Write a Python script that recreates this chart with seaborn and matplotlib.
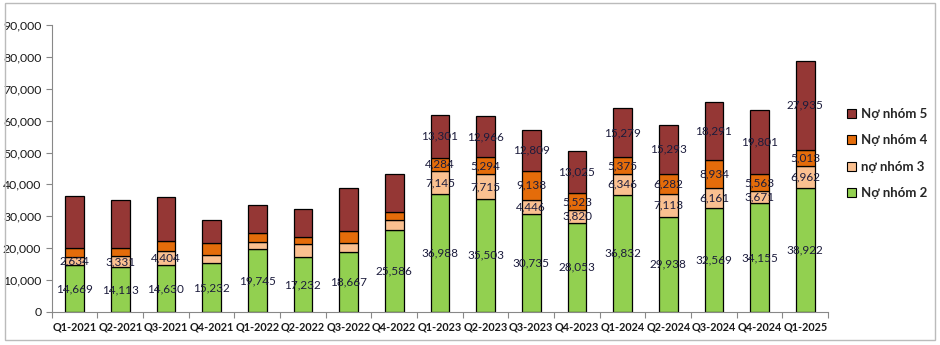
import numpy as np
import pandas as pd
import matplotlib
matplotlib.use("Agg")
import matplotlib.pyplot as plt
import seaborn as sns
from matplotlib.ticker import FuncFormatter, FixedLocator
from matplotlib.patches import Patch, Rectangle

quarters = ["Q1-2021", "Q2-2021", "Q3-2021", "Q4-2021", "Q1-2022", "Q2-2022",
            "Q3-2022", "Q4-2022", "Q1-2023", "Q2-2023", "Q3-2023", "Q4-2023",
            "Q1-2024", "Q2-2024", "Q3-2024", "Q4-2024", "Q1-2025"]
no_nhom_2 = [14669, 14113, 14630, 15232, 19745, 17232, 18667, 25586, 36988, 35503,
             30735, 28053, 36832, 29938, 32569, 34155, 38922]
no_nhom_3 = [2634, 3331, 4404, 2640, 2100, 3990, 2870, 3150, 7145, 7715,
             4446, 3820, 6346, 7113, 6161, 3671, 6962]
no_nhom_4 = [2670, 2530, 3220, 3670, 2810, 2390, 3950, 2510, 4284, 5294,
             9138, 5523, 5375, 6282, 8934, 5563, 5013]
no_nhom_5 = [16300, 15140, 13700, 7300, 8780, 8790, 13280, 11910, 13301, 12966,
             12809, 13025, 15279, 15293, 18291, 19801, 27935]
# which bars carry value labels
label_3_idx = [0, 1, 2] + list(range(8, 17))
label_from_45 = 8

series_names = ["Nợ nhóm 2", "nợ nhóm 3", "Nợ nhóm 4", "Nợ nhóm 5"]
series_vals = [no_nhom_2, no_nhom_3, no_nhom_4, no_nhom_5]
colors = ["#92D050", "#FAC090", "#E46C0A", "#953735"]

sns.set_theme(style="white")
plt.rcParams["font.family"] = ["Lato", "DejaVu Sans"]

fig = plt.figure(figsize=(9.4, 3.45), dpi=100)
ax = fig.add_axes([0.055, 0.0957, 0.826, 0.832])

df = pd.DataFrame({"quarter": quarters})
bottom = np.zeros(len(quarters))
label_color = "#1c1c3c"
for i, (name, vals, col) in enumerate(zip(series_names, series_vals, colors)):
    df["v"] = vals
    n_before = len(ax.patches)
    sns.barplot(data=df, x="quarter", y="v", color=col, width=0.41,
                bottom=bottom.copy(), edgecolor="black", linewidth=0.9,
                saturation=1, ax=ax, errorbar=None, order=quarters)
    patches = ax.patches[n_before:]
    for j, p in enumerate(patches):
        if i == 0:
            show = True
        elif i == 1:
            show = j in label_3_idx
        else:
            show = j >= label_from_45
        if show:
            cx = p.get_x() + p.get_width() / 2
            cy = p.get_y() + p.get_height() / 2
            ax.text(cx, cy, f"{vals[j]:,}", ha="center", va="center",
                    fontsize=8.5, color=label_color)
    bottom += np.array(vals)

ax.set_ylim(0, 90000)
ax.set_xlim(-0.5, len(quarters) - 0.5)
ax.yaxis.set_major_locator(FixedLocator(np.arange(0, 90001, 10000)))
ax.yaxis.set_major_formatter(FuncFormatter(lambda v, p: f"{int(v):,}"))
ax.set_xlabel("")
ax.set_ylabel("")
ax.xaxis.set_major_locator(FixedLocator(np.arange(-0.5, len(quarters), 1.0)))
ax.xaxis.set_major_formatter(FuncFormatter(lambda v, p: ""))
ax.set_xticks(np.arange(0, len(quarters)), minor=True)
ax.set_xticklabels(quarters, minor=True, fontsize=7.8, fontweight="bold",
                   color="#1a1a1a")
ax.tick_params(axis="x", which="minor", length=0, pad=7)
ax.tick_params(axis="x", which="major", length=4, width=0.8, color="#888888",
               direction="out", bottom=True)
ax.tick_params(axis="y", length=4, width=0.8, color="#888888", direction="out",
               left=True, labelsize=8.8, labelcolor="#1a1a1a")
for s in ["top", "right"]:
    ax.spines[s].set_visible(False)
for s in ["left", "bottom"]:
    ax.spines[s].set_color("#888888")
    ax.spines[s].set_linewidth(0.8)

handles = [Patch(facecolor=colors[k], edgecolor="black", linewidth=0.8, label=series_names[k])
           for k in [3, 2, 1, 0]]
fig.legend(handles=handles, loc="center left", bbox_to_anchor=(0.888, 0.555),
           frameon=False, handlelength=0.7, handleheight=0.7, handletextpad=0.4,
           labelspacing=1.1, prop={"weight": "bold", "size": 9.5})

fig.patches.append(Rectangle((0.005, 0.015), 0.99, 0.975, transform=fig.transFigure,
                             fill=False, edgecolor="#bbbbbb", linewidth=1.0))

fig.savefig("out.png", dpi=100)
